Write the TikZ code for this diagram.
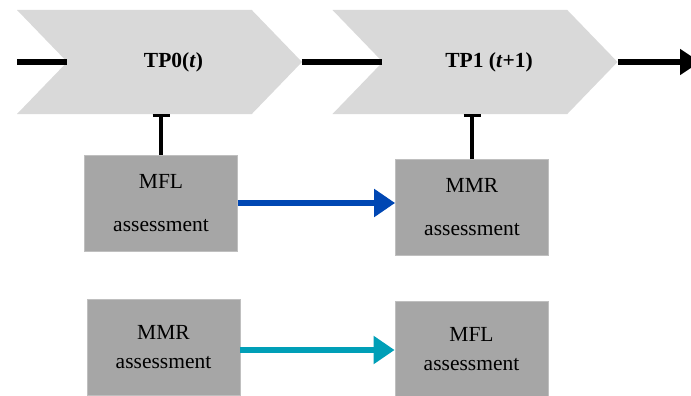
\documentclass[tikz,border=0pt]{standalone}
\usepackage{fontspec}
\setmainfont{Liberation Serif}
\usetikzlibrary{shapes.symbols}
\usetikzlibrary{arrows.meta}
\definecolor{chevgray}{HTML}{D9D9D9}
\definecolor{boxgray}{HTML}{A6A6A6}
\definecolor{boxedge}{HTML}{BFBFBF}
\definecolor{mflblue}{HTML}{0047B3}
\definecolor{mmrteal}{HTML}{009FB7}

\begin{document}
\begin{tikzpicture}[x=1pt, y=-1pt,
		tpstage/.style={signal, signal to=east, signal from=west, signal pointer angle=92,
			fill=chevgray, minimum width=285pt, minimum height=104pt, inner sep=0pt},
		tptext/.style={font=\bfseries\fontsize{21.5}{26}\selectfont},
		assess/.style={fill=boxgray, draw=boxedge, line width=0.8pt, minimum width=153pt,
			minimum height=96pt, align=center, font=\fontsize{21.5}{29}\selectfont},
		timeline/.style={line width=5.5pt},
		tbar/.style={line width=3.2pt, -{Bar[width=17pt]}},
		flow/.style={line width=5.5pt, -{Triangle[length=21pt, width=27pt]}}]
		\useasboundingbox (0,0) rectangle (691,396);
		% time points
		\node[tpstage, label={[name=tp0lbl, tptext, xshift=14pt]center:TP0(\textit{t})}] (tp0) at (159.5,62) {};
		\node[tpstage, label={[name=tp1lbl, tptext, xshift=14pt]center:TP1 (\textit{t}+1)}] (tp1) at (475,62) {};
		\coordinate (start) at (17,62);
		\coordinate (end) at (700,62);
		\draw[timeline] (start) -- (tp0.west);
		\draw[timeline] (tp0.east) -- (tp1.west);
		\draw[timeline, -{Triangle[length=20pt, width=25pt]}] (tp1.east) -- (end);
		% assessments
		\node[assess] (mfl0) at (161,203) {MFL\\[14pt]assessment};
		\node[assess] (mmr1) at (472,207.5) {MMR\\[14pt]assessment};
		\node[assess] (mmr0) at (163.5,347) {MMR\\assessment};
		\node[assess] (mfl1) at (471.5,349) {MFL\\assessment};
		\draw[tbar] (mfl0.north) -- (mfl0.north |- tp0.south);
		\draw[tbar] (mmr1.north) -- (mmr1.north |- tp1.south);
		\draw[flow, mflblue] (mfl0.east) -- (mfl0.east -| mmr1.west);
		\draw[flow, mmrteal] ([yshift=-3pt]mmr0.east) -- ([yshift=-3pt]mmr0.east -| mfl1.west);
	\end{tikzpicture}
\end{document}
